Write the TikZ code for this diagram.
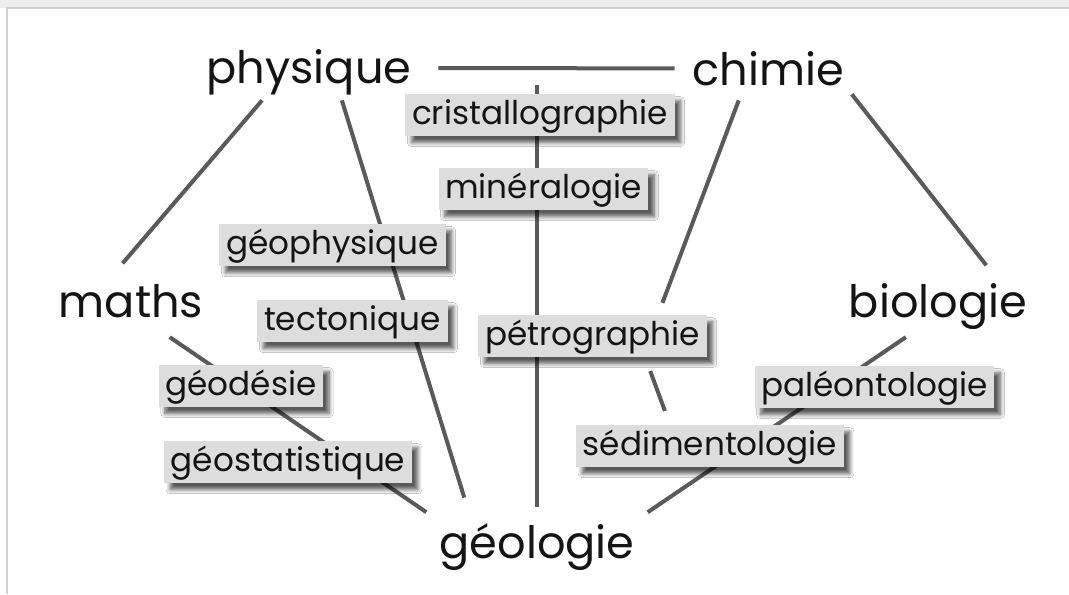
\documentclass[tikz,border=0pt]{standalone}
\usepackage{fontspec}
\setmainfont{Poppins}
\usetikzlibrary{positioning, backgrounds, shadows.blur}
\definecolor{ink}{RGB}{20,20,20}
\definecolor{wire}{RGB}{90,90,90}
\definecolor{tagfill}{RGB}{221,221,221}
\definecolor{rim}{RGB}{208,208,208}

\begin{document}
\begin{tikzpicture}[x=0.75pt, y=-0.75pt,
  field/.style={anchor=base, inner sep=0pt, text=ink,
    font=\fontsize{33.5pt}{36pt}\selectfont,
    text height=26pt, text depth=9pt},
  topic/.style={fill=tagfill, text=ink,
    font=\fontsize{24.5pt}{26pt}\selectfont,
    inner xsep=5pt, inner ysep=3pt,
    text height=19.5pt, text depth=6pt,
    blur shadow={shadow xshift=4.5pt, shadow yshift=-5pt,
      shadow blur radius=3pt, shadow blur steps=8, shadow opacity=65}},
  link/.style={draw=wire, line width=3pt}
]
\useasboundingbox (0,0) rectangle (1069,594);
% main fields
\node[field] at (309,83)  (phys)  {physique};
\node[field] at (768,85)  (chim)  {chimie};
\node[field] at (131,317) (maths) {maths};
\node[field] at (938,317) (bio)   {biologie};
\node[field] at (537,558) (geol)  {géologie};
% sub-disciplines on the links
\node[topic] at (540,115)   (cristal) {cristallographie};
\node[topic] at (543.5,189) (minera)  {minéralogie};
\node[topic] at (332.5,245) (geophys) {géophysique};
\node[topic] at (352.5,321) (tecto)   {tectonique};
\node[topic] at (241,386)   (geodes)  {géodésie};
\node[topic] at (288,462)   (geostat) {géostatistique};
\node[topic] at (592.5,336) (petro)   {pétrographie};
\node[topic] at (874.5,387) (paleo)   {paléontologie};
\node[topic] at (710,446)   (sedim)   {sédimentologie};
\begin{scope}[on background layer]
  % page frame
  \fill[white] (0,0) rectangle (1069,594);
  \fill[black!7] (0,0) rectangle (1069,8);
  \draw[rim, line width=1.5pt] (7,594) -- (7,8) -- (1069,8);
  % links
  \draw[link, shorten <=20pt, shorten >=13pt] (phys.2) -- (chim.176);
  \draw[link, shorten <=13pt, shorten >=12pt] (phys.2 -| geol.north) -- (geol.north);
  \draw[link, shorten <=5pt, shorten >=18.5pt] (phys.209) -- (maths.136);
  \draw[link, shorten <=4pt, shorten >=20pt] (phys.323) -- (geol.160);
  \draw[link, shorten <=9.5pt, shorten >=16pt] (chim.352) -- (bio.21);
  \draw[link, shorten <=2.5pt, shorten >=9.5pt] (chim.220) -- (petro.18);
  \draw[link, shorten <=11pt, shorten >=11pt] (petro.338) -- (sedim.152);
  \draw[link, shorten <=10.5pt, shorten >=14.5pt] (maths.319) -- (geol.166);
  \draw[link, shorten <=10.5pt, shorten >=14.5pt] (bio.229) -- (geol.14);
\end{scope}
\end{tikzpicture}
\end{document}
